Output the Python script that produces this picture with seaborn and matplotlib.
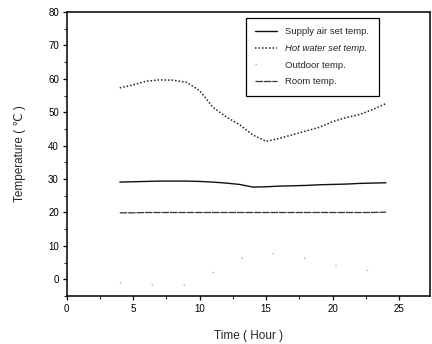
import numpy as np
import pandas as pd
import matplotlib
matplotlib.use("Agg")
import matplotlib.pyplot as plt
from matplotlib.ticker import MultipleLocator
import seaborn as sns

# hours
hours = [4, 5, 6, 7, 8, 9, 10, 11, 12, 13, 14, 15, 16, 17, 18, 19, 20, 21, 22, 23, 24]

supply_air = [29.1, 29.2, 29.3, 29.4, 29.4, 29.4, 29.3, 29.1, 28.8, 28.4, 27.6,
              27.7, 27.9, 28.0, 28.1, 28.3, 28.4, 28.5, 28.7, 28.8, 28.9]
hot_water = [57.3, 58.2, 59.3, 59.7, 59.6, 59.0, 56.5, 51.5, 48.6, 46.3, 43.2,
             41.3, 42.2, 43.3, 44.4, 45.5, 47.2, 48.4, 49.3, 50.8, 52.6]
outdoor = [-1.0, -1.2, -1.5, -1.8, -1.9, -1.7, 0.0, 2.0, 4.0, 6.0, 7.4,
           7.8, 7.6, 7.0, 6.2, 5.3, 4.3, 3.5, 2.9, 2.5, 2.2]
room = [19.9, 19.9, 20.0, 20.0, 20.0, 20.0, 20.0, 20.0, 20.0, 20.0, 20.0,
        20.0, 20.0, 20.0, 20.0, 20.0, 20.0, 20.0, 20.0, 20.0, 20.1]

labels = ["Supply air set temp.", "Hot water set temp.", "Outdoor temp.", "Room temp."]

df = pd.DataFrame({"hour": hours, labels[0]: supply_air, labels[1]: hot_water,
                   labels[2]: outdoor, labels[3]: room})

sns.set_theme(style="ticks")
plt.rcParams["font.family"] = ["Liberation Sans", "DejaVu Sans"]

fig = plt.figure(figsize=(4.32, 3.44), dpi=100)
ax = fig.add_axes([0.154, 0.1395, 0.841, 0.8255])

styles = {
    labels[0]: dict(color="#111111", linestyle="-", linewidth=1.0),
    labels[1]: dict(color="#222222", linestyle=(0, (1, 1.3)), linewidth=1.1),
    labels[2]: dict(color="#aaaaaa", linestyle=(0, (1, 22)), linewidth=1.0),
    labels[3]: dict(color="#333333", linestyle=(0, (6, 0.7)), linewidth=0.9),
}
for name in labels:
    sns.lineplot(data=df, x="hour", y=name, ax=ax, label=name, **styles[name])

ax.set_xlim(0, 27.3)
ax.set_ylim(-5, 80)
ax.xaxis.set_major_locator(MultipleLocator(5))
ax.xaxis.set_minor_locator(MultipleLocator(2.5))
ax.yaxis.set_major_locator(MultipleLocator(10))
ax.yaxis.set_minor_locator(MultipleLocator(5))
ax.tick_params(which="major", direction="out", length=3, width=0.9,
               labelsize=7, pad=2.5, colors="black")
ax.tick_params(which="minor", direction="out", length=2, width=0.8)
for s in ax.spines.values():
    s.set_linewidth(1.1)
    s.set_color("black")

ax.set_xlabel("Time ( Hour )", fontsize=8.5, labelpad=12)
ax.set_ylabel("Temperature ( \u2103 )", fontsize=8.5, labelpad=16)

leg = ax.legend(loc="upper left", bbox_to_anchor=(0.4935, 0.979),
                fontsize=6.8, frameon=True, fancybox=False, edgecolor="black",
                framealpha=1, borderpad=1.0, labelspacing=0.8,
                handlelength=2.3, handletextpad=0.9, borderaxespad=0)
leg.get_frame().set_linewidth(0.9)
leg.get_texts()[1].set_style("italic")

fig.savefig("out.png", dpi=100)
